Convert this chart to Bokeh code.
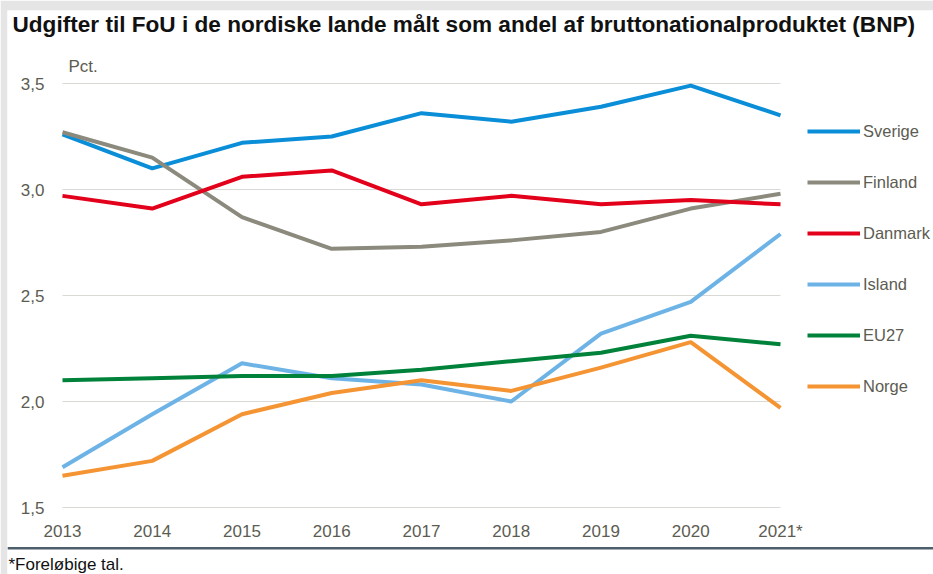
from bokeh.plotting import figure
from bokeh.models import (Legend, LegendItem, Label, FixedTicker, ColumnDataSource,
                          BoxAnnotation)
from bokeh.embed import file_html
from bokeh.resources import INLINE

years = [2013, 2014, 2015, 2016, 2017, 2018, 2019, 2020, 2021]
year_labels = ["2013", "2014", "2015", "2016", "2017", "2018", "2019", "2020", "2021*"]
sverige = [3.26, 3.10, 3.22, 3.25, 3.36, 3.32, 3.39, 3.49, 3.35]
finland = [3.27, 3.15, 2.87, 2.72, 2.73, 2.76, 2.80, 2.91, 2.98]
danmark = [2.97, 2.91, 3.06, 3.09, 2.93, 2.97, 2.93, 2.95, 2.93]
island = [1.69, 1.94, 2.18, 2.11, 2.08, 2.00, 2.32, 2.47, 2.79]
eu27 = [2.10, 2.11, 2.12, 2.12, 2.15, 2.19, 2.23, 2.31, 2.27]
norge = [1.65, 1.72, 1.94, 2.04, 2.10, 2.05, 2.16, 2.28, 1.97]
y_ticks = [1.5, 2.0, 2.5, 3.0, 3.5]
y_tick_labels = ["1,5", "2,0", "2,5", "3,0", "3,5"]

series = [
    ("Sverige", sverige, "#0B8ED8"),
    ("Finland", finland, "#8B8A7D"),
    ("Danmark", danmark, "#E3001B"),
    ("Island", island, "#6DB3E6"),
    ("EU27", eu27, "#00823B"),
    ("Norge", norge, "#F49433"),
]

TXT = "#5c5c52"
FONT = "Liberation Sans"
FS = "17px"
PAGE_GREY = "#e5e5e5"

# layout (pixels)
W, H = 933, 574
LEFT, TOP = 7, 10                 # grey page edge on the left and top
X0_PX, X1_PX = 62, 780            # where first / last year sit
Y_BASE_PX = 507                   # where 1,5 sits
PX_PER_UNIT_Y = 212.0
frame_w = W - LEFT
frame_h = H - TOP
px_per_year = (X1_PX - X0_PX) / (years[-1] - years[0])
x_start = years[0] - (X0_PX - LEFT) / px_per_year
x_end = x_start + frame_w / px_per_year
y_start = y_ticks[0] - (H - Y_BASE_PX) / PX_PER_UNIT_Y
y_end = y_start + frame_h / PX_PER_UNIT_Y

p = figure(width=W, height=H, output_backend="svg", toolbar_location=None,
           x_range=(x_start, x_end), y_range=(y_start, y_end),
           min_border_left=LEFT, min_border_right=0, min_border_top=TOP,
           min_border_bottom=0)
p.outline_line_color = None
p.border_fill_color = PAGE_GREY
p.background_fill_color = "white"
p.grid.grid_line_color = None

# horizontal gridlines across the year span only
p.segment(x0=[years[0]] * len(y_ticks), x1=[years[-1]] * len(y_ticks), y0=y_ticks, y1=y_ticks,
          line_color="#d9d9d6", line_width=1)

p.yaxis.ticker = FixedTicker(ticks=y_ticks)
p.yaxis.major_label_overrides = {t: l for t, l in zip(y_ticks, y_tick_labels)}
p.xaxis.ticker = FixedTicker(ticks=years)
p.xaxis.major_label_overrides = {y: l for y, l in zip(years, year_labels)}
for ax in (p.xaxis, p.yaxis):
    ax.axis_line_color = None
    ax.major_tick_line_color = None
    ax.minor_tick_line_color = None
    ax.major_tick_out = 0
    ax.major_tick_in = 0
    ax.minor_tick_out = 0
    ax.minor_tick_in = 0
    ax.major_label_text_font = FONT
    ax.major_label_text_font_size = FS
    ax.major_label_text_color = TXT
# labels drawn into the white plot area (axes sit on the page edge)
p.yaxis.major_label_standoff = LEFT - 44
p.xaxis.major_label_standoff = 521 - H

items = []
for name, vals, col in series:
    src = ColumnDataSource(dict(x=years, y=vals))
    r = p.line("x", "y", source=src, line_color=col, line_width=4, line_join="round")
    items.append(LegendItem(label=name, renderers=[r]))

legend = Legend(items=items, location=(807 - LEFT, H - 397), orientation="vertical",
                glyph_width=53, glyph_height=22, label_height=22, spacing=29,
                label_standoff=3, padding=0, margin=0,
                border_line_color=None, background_fill_alpha=0,
                label_text_font=FONT, label_text_font_size="16.5px",
                label_text_color=TXT)
p.add_layout(legend)

p.add_layout(Label(x=12 - LEFT, y=H - 24, x_units="screen", y_units="screen",
                   text="Udgifter til FoU i de nordiske lande målt som andel af bruttonationalproduktet (BNP)",
                   text_font=FONT, text_font_style="bold", text_font_size="22.6px",
                   text_color="#111111", text_baseline="middle"))
p.add_layout(Label(x=68 - LEFT, y=H - 66, x_units="screen", y_units="screen",
                   text="Pct.", text_font=FONT, text_font_size=FS, text_color=TXT,
                   text_baseline="middle"))

p.add_layout(BoxAnnotation(top=H - 546.5, bottom=H - 549, top_units="screen",
                           bottom_units="screen", fill_color="#4d5f6b", fill_alpha=1,
                           line_color=None))
p.add_layout(Label(x=8 - LEFT, y=H - 564, x_units="screen", y_units="screen",
                   text="*Foreløbige tal.", text_font=FONT, text_font_size=FS,
                   text_color="#111111", text_baseline="middle"))

open("out.html", "w").write(file_html(p, INLINE))
